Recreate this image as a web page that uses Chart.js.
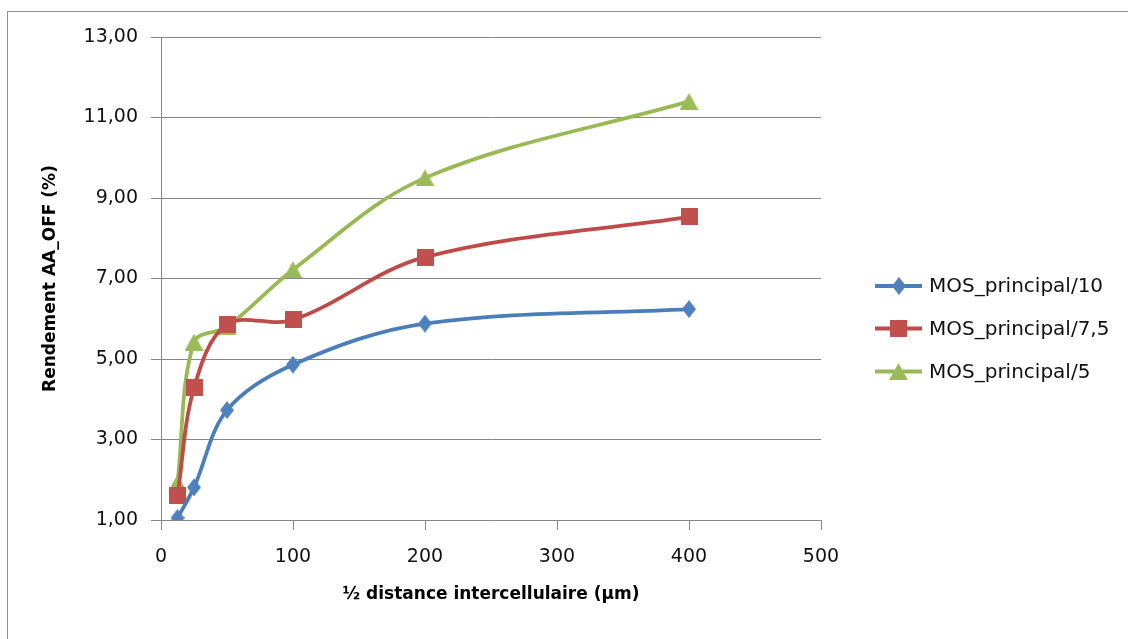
<!DOCTYPE html>
<html><head><meta charset="utf-8">
<script src="https://cdn.jsdelivr.net/npm/chart.js@4/dist/chart.umd.min.js"></script>
<style>
html,body{margin:0;padding:0;background:#fff;overflow:hidden;width:1128px;height:639px;}
#frame{position:absolute;left:7px;top:11px;width:1300px;height:800px;border:1px solid #8e8e8e;}
canvas{position:absolute;left:0;top:0;}
</style></head><body>
<div id="frame"></div>
<canvas id="c" width="1128" height="639"></canvas>
<script>
const xValues = [12.5, 25, 50, 100, 200, 400];
const seriesNames = ['MOS_principal/10', 'MOS_principal/7,5', 'MOS_principal/5'];
const mos10 = [1.05, 1.81, 3.73, 4.86, 5.88, 6.24];
const mos75 = [1.60, 4.28, 5.86, 5.97, 7.53, 8.53];
const mos5  = [1.92, 5.42, 5.80, 7.22, 9.50, 11.40];
const yTickValues = [1, 3, 5, 7, 9, 11, 13];
const yTickLabels = ['1,00', '3,00', '5,00', '7,00', '9,00', '11,00', '13,00'];
const xTickValues = [0, 100, 200, 300, 400, 500];
const xTitle = '½ distance intercellulaire (µm)';
const yTitle = 'Rendement AA_OFF (%)';

const lineColors = ['#4A7EBB', '#BE4B48', '#98B954'];
const markerColors = ['#4F81BD', '#C0504D', '#9BBB59'];
const seriesValues = [mos10, mos75, mos5];

function makeMarker(kind, color) {
  const c = document.createElement('canvas');
  let w, h;
  if (kind === 'diamond') { w = 14; h = 18; }
  else if (kind === 'square') { w = 17; h = 17; }
  else { w = 19; h = 17; }
  c.width = w; c.height = h;
  const ctx = c.getContext('2d');
  ctx.fillStyle = color;
  ctx.beginPath();
  if (kind === 'diamond') {
    ctx.moveTo(w / 2, 0); ctx.lineTo(w, h / 2); ctx.lineTo(w / 2, h); ctx.lineTo(0, h / 2);
  } else if (kind === 'square') {
    ctx.rect(0, 0, w, h);
  } else {
    ctx.moveTo(w / 2, 0); ctx.lineTo(w, h); ctx.lineTo(0, h);
  }
  ctx.closePath();
  ctx.fill();
  return c;
}
const markerKinds = ['diamond', 'square', 'triangle'];
const markers = markerKinds.map((k, i) => makeMarker(k, markerColors[i]));

Chart.defaults.font.family = "'DejaVu Sans', sans-serif";
Chart.defaults.color = '#000';

const datasets = seriesValues.map((vals, i) => ({
  label: seriesNames[i],
  data: xValues.map((x, j) => ({x: x, y: vals[j]})),
  borderColor: lineColors[i],
  backgroundColor: markerColors[i],
  pointStyle: markers[i],
  pointRadius: 9,
  pointHoverRadius: 9,
  borderWidth: 3.8,
  tension: 0.35,
  fill: false
}));

const legendPlugin = {
  id: 'customLegend',
  afterDraw(chart) {
    const ctx = chart.ctx;
    const ys = [286, 328.5, 371.5];
    ctx.save();
    ctx.font = "20px 'DejaVu Sans'";
    ctx.textBaseline = 'middle';
    chart.data.datasets.forEach((ds, i) => {
      const y = ys[i];
      ctx.strokeStyle = lineColors[i];
      ctx.lineWidth = 3.8;
      ctx.beginPath(); ctx.moveTo(875, y); ctx.lineTo(922, y); ctx.stroke();
      const m = markers[i];
      ctx.drawImage(m, Math.round(898.5 - m.width / 2), Math.round(y - m.height / 2));
      ctx.fillStyle = '#111';
      ctx.fillText(ds.label, 929, y + 1);
    });
    ctx.restore();
  }
};

new Chart(document.getElementById('c'), {
  type: 'line',
  data: { datasets: datasets },
  options: {
    responsive: false,
    animation: false,
    devicePixelRatio: 1,
    layout: { padding: { top: 37, right: 307, left: 0, bottom: 0 } },
    plugins: { legend: { display: false }, tooltip: { enabled: false } },
    scales: {
      x: {
        type: 'linear', min: 0, max: 500,
        afterFit(s) { s.height = 119; },
        afterBuildTicks(s) { s.ticks = xTickValues.map(v => ({value: v})); },
        ticks: { font: { size: 19 }, padding: 16, color: '#111', maxRotation: 0 },
        grid: { drawOnChartArea: false, drawTicks: true, tickLength: 10, color: '#868686', lineWidth: 1 },
        border: { display: true, color: '#868686', width: 1 },
        title: { display: true, text: xTitle, font: { size: 17, weight: 'bold' }, padding: 34, color: '#000' }
      },
      y: {
        type: 'linear', min: 1, max: 13,
        afterFit(s) { s.width = 161; },
        afterBuildTicks(s) { s.ticks = yTickValues.map(v => ({value: v})); },
        ticks: {
          font: { size: 19 }, padding: 13, color: '#111',
          callback: (v) => yTickLabels[yTickValues.indexOf(v)]
        },
        grid: { drawOnChartArea: true, drawTicks: true, tickLength: 10, color: '#868686', lineWidth: 1 },
        border: { display: true, color: '#868686', width: 1 },
        title: { display: true, text: yTitle, font: { size: 17, weight: 'bold' }, padding: 40, color: '#000' }
      }
    }
  },
  plugins: [legendPlugin]
});
</script>
</body></html>
